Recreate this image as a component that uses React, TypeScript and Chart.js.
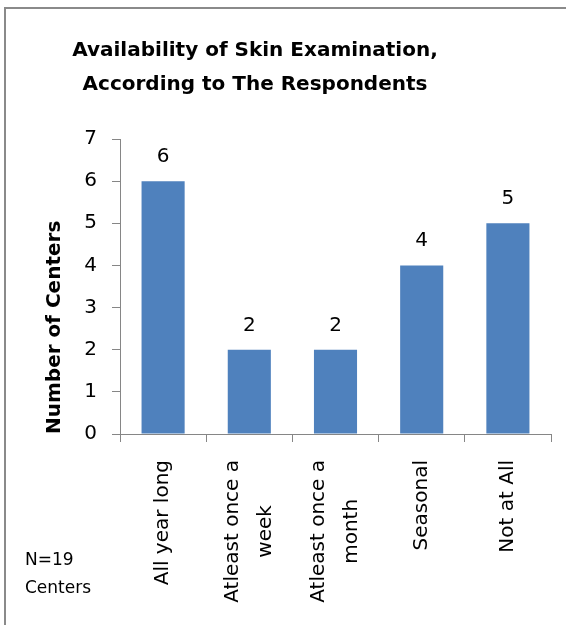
import React, { useEffect, useRef } from "react";
import { Chart, registerables } from "chart.js";

Chart.register(...registerables);

const categories: string[][] = [
  ["All year long"],
  ["Atleast once a", "week"],
  ["Atleast once a", "month"],
  ["Seasonal"],
  ["Not at All"],
];
const values: number[] = [6, 2, 2, 4, 5];
const titleLines: string[] = ["Availability of Skin Examination,", "According to The Respondents"];
const yAxisTitle = "Number of Centers";
const noteLines: string[] = ["N=19", "Centers"];
const yMin = 0;
const yMax = 7;
const yStep = 1;

const FONT = "'DejaVu Sans', sans-serif";
const AXIS_GRAY = "#868686";
const BAR_BLUE = "#4F81BD";

export default function App() {
  const ref = useRef<HTMLCanvasElement | null>(null);

  useEffect(() => {
    const canvas = ref.current;
    if (!canvas) return;

    const decor = {
      id: "decor",
      beforeDraw(chart: any) {
        const ctx = chart.ctx;
        ctx.save();
        ctx.fillStyle = "#ffffff";
        ctx.fillRect(0, 0, chart.width, chart.height);
        ctx.strokeStyle = "#8a8a8a";
        ctx.lineWidth = 2;
        ctx.beginPath();
        ctx.moveTo(5, chart.height);
        ctx.lineTo(5, 8);
        ctx.lineTo(chart.width, 8);
        ctx.stroke();
        ctx.restore();
      },
      afterDraw(chart: any) {
        const ctx = chart.ctx;
        const xs = chart.scales.x;
        ctx.save();
        ctx.fillStyle = "#000000";

        // title
        ctx.font = `bold 20px ${FONT}`;
        ctx.textAlign = "center";
        ctx.textBaseline = "alphabetic";
        titleLines.forEach((t, i) => ctx.fillText(t, 255, 56 + i * 34));

        // x labels (rotated, lines centered within block)
        ctx.font = `20px ${FONT}`;
        const lh = 33;
        const yTop = xs.top + 26;
        categories.forEach((lines, i) => {
          const x = xs.getPixelForValue(i);
          const w = Math.max(...lines.map((l) => ctx.measureText(l).width));
          lines.forEach((line, j) => {
            ctx.save();
            ctx.translate(x + (j - (lines.length - 1) / 2) * lh, yTop + w / 2);
            ctx.rotate(-Math.PI / 2);
            ctx.textAlign = "center";
            ctx.textBaseline = "middle";
            ctx.fillText(line, 0, 0);
            ctx.restore();
          });
        });

        // data labels
        const meta = chart.getDatasetMeta(0);
        ctx.font = `20px ${FONT}`;
        ctx.textAlign = "center";
        ctx.textBaseline = "alphabetic";
        meta.data.forEach((el: any, i: number) => {
          ctx.fillText(String(values[i]), el.x, el.y - 19);
        });

        // note
        ctx.font = `17px ${FONT}`;
        ctx.textAlign = "left";
        ctx.textBaseline = "alphabetic";
        noteLines.forEach((t, i) => ctx.fillText(t, 25, 565 + i * 28));
        ctx.restore();
      },
    };

    const chart = new Chart(canvas, {
      type: "bar",
      data: {
        labels: categories.map((c) => c.join(" ")),
        datasets: [
          {
            data: values,
            backgroundColor: BAR_BLUE,
            borderWidth: 0,
            categoryPercentage: 1,
            barPercentage: 0.5,
          },
        ],
      },
      options: {
        animation: false,
        responsive: false,
        events: [],
        layout: { padding: { left: 0, top: 139, right: 15, bottom: 1 } },
        plugins: { legend: { display: false }, tooltip: { enabled: false }, title: { display: false } },
        scales: {
          x: {
            afterFit: (s: any) => {
              s.height = 190;
            },
            grid: {
              offset: true,
              drawOnChartArea: false,
              drawTicks: true,
              tickLength: 8,
              color: AXIS_GRAY,
            },
            border: { color: AXIS_GRAY, width: 1 },
            ticks: { display: false },
          },
          y: {
            min: yMin,
            max: yMax,
            afterFit: (s: any) => {
              s.width = 120;
            },
            grid: {
              drawOnChartArea: false,
              drawTicks: true,
              tickLength: 8,
              color: AXIS_GRAY,
            },
            border: { color: AXIS_GRAY, width: 1 },
            ticks: {
              stepSize: yStep,
              color: "#000000",
              padding: 15,
              font: { family: FONT, size: 20 },
            },
            title: {
              display: true,
              text: yAxisTitle,
              align: "start",
              color: "#000000",
              font: { family: FONT, size: 20, weight: "bold" },
              padding: { top: 43, bottom: 0 },
            },
          },
        },
      },
      plugins: [decor],
    });
    return () => chart.destroy();
  }, []);

  return (
    <div style={{ position: "fixed", left: 0, top: 0, width: 566, height: 625 }}>
      <canvas ref={ref} width={566} height={625} style={{ display: "block" }} />
    </div>
  );
}
